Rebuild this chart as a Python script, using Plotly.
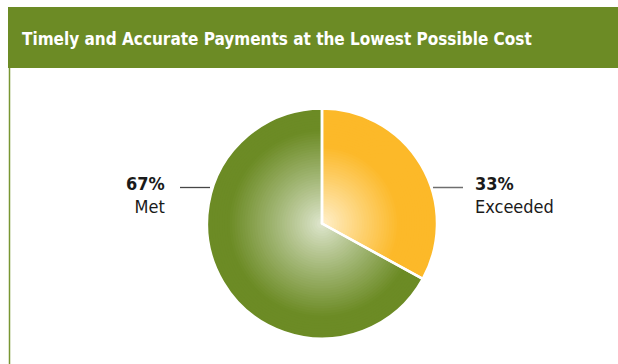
import plotly.graph_objects as go

# Data
labels = ["Exceeded", "Met"]
values = [33, 67]
pct_text = ["33%", "67%"]

title_text = "Timely and Accurate Payments at the Lowest Possible Cost"

W, H = 618, 364
GREEN = (108, 139, 37)
ORANGE = (252, 185, 41)
GREEN_CENTER = (226, 233, 211)
ORANGE_CENTER = (255, 242, 210)

# pie geometry in pixels
CX, CY, R = 322, 223.5, 115


def mix(c0, c1, f):
    return "rgb(%d,%d,%d)" % tuple(round(a + (b - a) * f) for a, b in zip(c0, c1))


def domain(r):
    cy_b = H - CY
    return dict(x=[(CX - r) / W, (CX + r) / W], y=[(cy_b - r) / H, (cy_b + r) / H])


fig = go.Figure()

# Concentric pie layers build up a radial gradient in each slice
N = 46
for k in range(N):
    t = 1 - k / N  # radius fraction
    fg = min(t / 0.82, 1.0) ** 0.9
    fo = min(t / 0.68, 1.0) ** 0.9
    colors = [mix(ORANGE_CENTER, ORANGE, fo), mix(GREEN_CENTER, GREEN, fg)]
    fig.add_trace(go.Pie(
        labels=labels, values=values, sort=False, direction="clockwise",
        rotation=0, textinfo="none", hoverinfo="skip", showlegend=False,
        marker=dict(colors=colors, line=dict(width=0)),
        domain=domain(R * t),
    ))

# White slice separators
fig.add_trace(go.Pie(
    labels=labels, values=values, sort=False, direction="clockwise",
    rotation=0, textinfo="none", hoverinfo="skip", showlegend=False,
    marker=dict(colors=["rgba(0,0,0,0)"] * 2, line=dict(color="white", width=2.5)),
    domain=domain(R),
))

shapes = [
    # header band
    dict(type="rect", xref="paper", yref="paper", x0=8 / W, x1=1, y0=1 - 68 / H, y1=1 - 7 / H,
         fillcolor="rgb(108,139,37)", line=dict(width=0), layer="below"),
    # left frame rule
    dict(type="line", xref="paper", yref="paper", x0=9.5 / W, x1=9.5 / W, y0=0, y1=1 - 68 / H,
         line=dict(color="rgb(120,150,50)", width=1.5)),
    # leader lines
    dict(type="line", xref="paper", yref="paper", x0=180 / W, x1=210 / W, y0=1 - 187.5 / H, y1=1 - 187.5 / H,
         line=dict(color="rgb(70,70,70)", width=1.3)),
    dict(type="line", xref="paper", yref="paper", x0=433 / W, x1=463 / W, y0=1 - 187.5 / H, y1=1 - 187.5 / H,
         line=dict(color="rgb(110,110,110)", width=1.5)),
]

FONT = "DejaVu Sans Condensed, Liberation Sans Narrow, sans-serif"
annotations = [
    dict(text="<b>" + title_text + "</b>", xref="paper", yref="paper", x=20 / W, y=1 - 39 / H,
         xanchor="left", yanchor="middle", showarrow=False,
         font=dict(family=FONT, size=17, color="white")),
    dict(text="<b>" + pct_text[1] + "</b><br>" + labels[1], xref="paper", yref="paper",
         x=167 / W, y=1 - 195 / H, xanchor="right", yanchor="middle", align="right", showarrow=False,
         font=dict(family=FONT, size=18, color="#1a1a1a")),
    dict(text="<b>" + pct_text[0] + "</b><br>" + labels[0], xref="paper", yref="paper",
         x=473 / W, y=1 - 195 / H, xanchor="left", yanchor="middle", align="left", showarrow=False,
         font=dict(family=FONT, size=18, color="#1a1a1a")),
]

fig.update_layout(
    width=W, height=H, margin=dict(l=0, r=0, t=0, b=0),
    paper_bgcolor="white", plot_bgcolor="white",
    shapes=shapes, annotations=annotations,
)

fig.write_html("out.html")
